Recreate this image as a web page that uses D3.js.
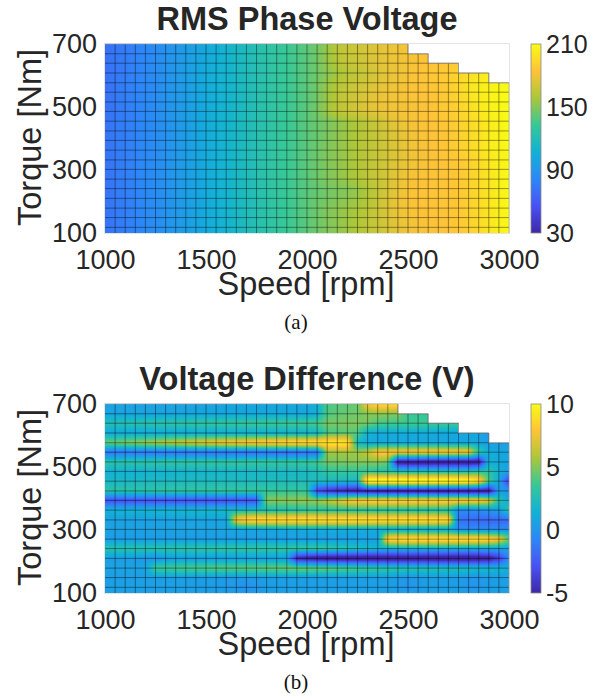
<!DOCTYPE html>
<html>
<head>
<meta charset="utf-8">
<script src="https://cdn.jsdelivr.net/npm/d3@7"></script>
<style>
  html, body { margin: 0; padding: 0; background: #fff; }
  svg { display: block; }
  text { font-family: "Liberation Sans", Arial, sans-serif; fill: #262626; }
  .caption { font-family: "Liberation Serif", "Times New Roman", serif; fill: #111; }
</style>
</head>
<body>
<div id="viz"></div>
<script>
/* speed / torque map, two panels */
const speeds = [1000,1050,1100,1150,1200,1250,1300,1350,1400,1450,1500,1550,1600,1650,1700,1750,1800,1850,1900,1950,2000,2050,2100,2150,2200,2250,2300,2350,2400,2450,2500,2550,2600,2650,2700,2750,2800,2850,2900,2950,3000];
const torques = [700,669,639,608,577,547,516,486,455,424,394,363,332,302,271,241,210,179,149,118,100];
const speedTicks = [1000,1500,2000,2500,3000];
const torqueTicks = [100,300,500,700];
const voltageTicks = [30,90,150,210];
const diffTicks = [-5,0,5,10];
const _ = null;

// RMS phase voltage, one row per torque, top row first
const voltage = [
[70,73,76,79,82,85,88,91,95,98,102,106,110,114,118,122,126,130,133,137,141,146,154,163,167,169,172,175,178,180,182,_,_,_,_,_,_,_,_,_,_],
[70,73,76,79,82,85,88,91,95,98,102,106,110,114,118,122,126,130,133,137,141,146,154,163,167,169,172,175,178,180,181,183,184,_,_,_,_,_,_,_,_],
[71,74,76,79,82,85,88,92,95,99,103,107,110,114,118,122,126,130,133,137,141,146,154,162,166,168,172,175,178,179,181,183,184,185,186,188,_,_,_,_,_],
[71,74,76,79,82,85,88,92,95,99,103,107,110,114,118,122,126,130,133,137,141,145,151,157,162,165,168,173,177,180,182,184,186,187,188,192,196,200,204,_,_],
[71,74,77,80,82,85,88,92,95,99,103,107,110,114,118,122,126,130,133,137,141,146,154,161,165,168,171,175,178,180,182,184,185,186,188,193,199,203,206,208,210],
[71,74,77,80,82,85,89,92,95,99,103,107,110,114,118,122,126,130,133,137,141,146,155,163,167,170,174,177,180,181,183,184,185,186,188,193,199,203,206,208,210],
[71,74,77,80,82,85,89,92,95,99,103,107,110,114,118,122,126,130,133,137,141,146,155,163,167,170,175,178,180,181,182,183,184,186,188,192,197,202,205,208,210],
[71,74,77,80,82,85,89,92,95,99,103,107,110,114,118,122,126,130,133,137,141,147,156,164,168,171,175,178,180,181,182,183,184,186,188,191,196,201,205,208,210],
[72,75,77,80,83,85,88,92,95,99,103,107,110,114,118,122,126,130,133,137,141,144,148,152,156,160,164,168,174,178,181,183,184,185,186,190,194,198,203,206,210],
[72,75,77,80,83,85,88,92,95,99,103,107,110,114,118,122,126,130,133,137,141,144,148,152,156,160,164,168,172,176,180,183,184,185,186,190,194,198,203,206,210],
[72,75,77,80,83,85,88,92,95,99,103,107,110,114,118,122,126,130,133,137,141,144,148,152,156,160,164,167,171,175,179,182,184,185,186,190,194,198,203,206,210],
[72,75,77,80,83,85,88,92,95,99,103,107,110,114,118,122,126,130,133,137,141,145,149,152,156,160,164,167,171,175,179,181,183,185,186,190,194,198,203,206,209],
[72,75,77,80,83,85,88,92,95,99,103,107,110,114,118,122,126,130,133,137,141,145,149,152,156,160,164,167,171,175,179,181,183,184,185,186,190,195,200,205,209],
[72,75,77,80,83,85,88,92,95,99,103,107,110,114,118,122,126,130,133,137,141,145,149,152,156,160,164,168,172,176,180,182,183,184,185,186,190,195,200,205,209],
[72,75,77,80,83,85,88,92,95,99,103,107,110,114,118,122,126,130,133,137,141,145,149,152,156,160,164,168,172,177,181,183,184,185,185,186,190,195,200,205,209],
[72,75,77,80,83,85,88,92,95,99,103,107,110,114,118,122,126,130,133,137,140,143,146,148,150,154,160,166,172,178,182,184,185,185,185,186,190,195,200,205,209],
[72,75,77,80,83,85,88,92,95,99,103,107,110,114,118,122,126,130,133,137,141,144,147,149,152,156,161,167,173,179,183,184,185,185,185,186,190,195,200,205,209],
[72,75,77,80,84,85,89,92,95,99,103,107,110,114,118,122,126,130,133,137,141,145,149,152,155,158,163,168,174,179,182,184,184,185,185,186,190,195,200,205,209],
[72,75,77,80,84,85,89,92,95,99,103,107,110,114,118,122,126,130,133,137,141,145,149,152,156,160,164,168,173,178,181,183,184,184,185,186,190,195,200,205,209],
[72,75,77,80,84,85,89,92,95,99,103,107,110,114,118,122,126,130,133,137,141,145,149,152,156,160,164,168,172,176,180,182,183,184,185,186,190,195,200,205,209],
[72,75,77,80,84,85,89,92,95,99,103,107,110,114,118,122,126,130,133,137,141,145,149,152,156,160,164,168,172,176,180,182,183,184,185,186,190,195,200,205,209]
];

// voltage difference, same grid
const difference = [
[.6,.6,.6,.6,.6,.6,.7,.7,.7,.7,.7,.7,.8,.8,.8,.8,.8,.9,.9,.9,.9,1.5,4,4.2,4.3,4.5,8,9,9.2,9.2,_,_,_,_,_,_,_,_,_,_,_],
[.8,.8,.8,.8,.8,.8,.8,.8,.8,.9,.9,.9,.9,.9,.9,1,1,1,1,1,1,1.2,4,4.3,4.5,4.6,5,5.2,5,5,3.6,3.5,3.5,_,_,_,_,_,_,_,_],
[2.5,2.6,2.7,2.8,2.9,3,3,3.1,3.1,3.2,3.3,3.3,3.4,3.4,3.5,3.5,3.6,3.6,3.7,3.7,3.8,4,4.8,4.8,4.9,4.9,4.8,4,3.8,3.7,3.7,3.7,3.7,3.7,3.7,3.7,_,_,_,_,_],
[1,1,1,1,1,1,1.1,1.1,1.1,1.2,1.2,1.2,1.3,1.3,1.3,1.4,1.4,1.4,1.5,1.5,1.5,1.8,3.8,4,4.2,4,1.5,1.2,1.2,1.2,1.1,1.1,1.1,1,1,1,1,.8,.2,_,_],
[4.5,4.7,5,5.3,5.6,5.9,6.2,6.5,6.8,7.1,7.4,7.7,8,8.2,8.4,8.6,8.8,9,9.2,9.3,9.4,9.5,9.6,9.7,9.6,2,1,.9,.9,.9,.9,.9,.9,.9,.8,.8,.8,.8,.5,.5,.4],
[-1.5,-1.5,-1.5,-1.5,-1.6,-1.6,-1.6,-1.7,-1.7,-1.7,-1.8,-1.8,-1.8,-1.8,-1.9,-1.9,-1.9,-2,-2,-2,-2,-2,5.5,5.5,5.6,5.5,6.3,8.2,8.4,8.4,8.4,8.4,8.4,8.4,8.4,8.3,8.2,3.5,1.2,1,.8],
[3,3,3.1,3.1,3.2,3.2,3.3,3.3,3.3,3.3,3.4,3.4,3.4,3.4,3.5,3.5,3.5,3.5,3.5,3.5,3.6,3.9,4.7,4.8,4.9,5,5,5,4.6,-6,-6.2,-6.2,-6.3,-6.3,-6.3,-6.3,-6.3,-6,1.5,1,.8],
[1.5,1.5,1.5,1.5,1.6,1.6,1.6,1.7,1.7,1.7,1.8,1.8,1.8,1.9,1.9,1.9,2,2,2,2,2.1,2.4,3.2,3.4,3.4,3.4,3.2,3,2.8,2.6,2.5,2.5,2.5,2.5,2.5,2.5,2.6,3,3,1.5,.5],
[2,2,2,2,2.1,2.1,2.1,2.1,2.2,2.2,2.2,2.2,2.2,2.2,2.2,2.3,2.3,2.3,2.3,2.3,2.3,2.3,2.2,2.2,2.1,2,11,11.2,11.4,11.4,11.4,11.4,11.4,11.4,11.4,11.2,11,9.5,4,1,-4],
[3,3,3.1,3.1,3.1,3.2,3.2,3.2,3.2,3.3,3.3,3.3,3.4,3.4,3.4,3.4,3.4,3.4,3.4,3.4,3.4,-3.5,-4.5,-5,-5.3,-5.6,-5.8,-6,-6.1,-6.2,-6.2,-6.2,-6.3,-6.3,-6.3,-6.3,-6.3,-6.2,-6,.5,0],
[-3,-3,-3,-3,-3,-3,-3,-3,-3,-3.1,-3.1,-3.1,-3.1,-3.1,-3.1,-3,5,5.2,5.2,5.3,5.4,5.5,6.2,7,8,8.5,8.6,8.8,8.8,8.8,8.8,8.8,8.8,8.8,8.8,8.8,8.6,8.5,7.5,3,1],
[1.5,1.5,1.6,1.6,1.7,1.7,1.8,1.8,1.9,1.9,2,2,2.1,2.2,2.3,2.4,2.5,2.6,2.7,2.8,3,3,3,3,3,2.9,2.9,2.8,2.8,2.7,2.7,2.6,2.6,2.6,2.5,-.5,-.5,-.3,0,.5,3],
[.6,.6,.6,.6,.6,.6,.6,.6,.7,.7,.7,.7,.7,8,9,9.4,9.4,9.5,9.5,9.6,9.6,9.6,9.6,9.7,9.7,9.7,9.7,9.7,9.7,9.7,9.7,9.7,9.7,9.6,9.4,-1.5,-1.8,-2,-2,-2,-2],
[.6,.6,.6,.6,.6,.6,.6,.7,.7,.7,.7,.7,.8,.8,.9,.9,1,1,1.1,1.1,1.2,1.2,1.2,1.2,1.2,1.2,1.2,1.1,1.1,1.1,1,1,1,1,1,-.5,-.5,-.5,-.5,-.4,-.3],
[.4,.4,.4,.4,.4,.4,.4,.4,.4,.4,.4,.4,.4,.4,.4,.4,.4,.4,.4,.4,.4,.4,.4,.4,.4,.5,.5,.5,9,9.4,9.6,9.6,9.6,9.6,9.6,9.6,9.6,9.6,9.2,8,4.5],
[2.8,2.8,2.8,2.9,2.9,2.9,3,3,3,3.1,3.1,3.1,3.2,3.2,3.2,3.3,3.3,3.3,3.3,3.4,3.4,3.4,3.2,3,2.8,2.4,2,1.8,1.6,1.5,1.5,1.5,1.4,1.4,1.3,1.2,1.1,1,1,.8,.6],
[.5,.5,.5,.4,.2,-.1,.3,.5,.5,.5,.5,.5,.5,.5,.5,.5,.5,.5,.5,-5,-5.6,-6,-6.2,-6.3,-6.3,-6.3,-6.3,-6.3,-6.3,-6.3,-6.3,-6.3,-6.3,-6.3,-6.3,-6.3,-6.3,-6.1,-5.8,-4,-.5],
[.7,.7,.7,.7,.7,3.6,3.7,3.8,3.9,4,4.1,4.2,4.3,4.3,4.4,4.4,4.5,4.6,4.6,4.7,4.7,4.6,4.5,4.3,4.1,3.8,3.6,3.4,3.2,3,2.9,2.8,2.7,2.6,2.5,2.4,2.3,2.1,1.9,1.7,1.5],
[.5,.5,.5,.5,.5,.5,.5,.5,.5,.4,.4,.4,.3,.3,.3,.4,.5,.5,.5,.5,.5,.5,.5,.5,.5,.5,.5,.5,.5,.4,.1,.3,.5,.5,.5,.4,.1,.1,.4,.5,.5],
[.5,.5,.5,.5,.5,.5,.5,.5,.5,.5,.4,.4,.3,.1,-.2,.1,.4,.5,.5,.5,.5,.5,.5,.5,.5,.5,.5,.5,.5,.3,0,.3,.5,.5,.5,.4,0,.1,.4,.5,.5],
[.5,.5,.5,.5,.5,.5,.5,.5,.5,.5,.5,.5,.4,.3,.2,.3,.5,.5,.5,.5,.5,.5,.5,.5,.5,.5,.5,.5,.5,.5,.3,.4,.5,.5,.5,.5,.3,.4,.5,.5,.5]
];

const parula = ['#3e26a8','#4852f4','#2d87f7','#11b1d6','#37c897','#abc739','#fec338','#f9fb15'];

const width = 606, height = 700;
const svg = d3.select('#viz').append('svg').attr('width', width).attr('height', height);

const defs = svg.append('defs');
const grad = defs.append('linearGradient').attr('id', 'cbar').attr('x1', 0).attr('x2', 0).attr('y1', 1).attr('y2', 0);
parula.forEach((c, i) => grad.append('stop').attr('offset', i / (parula.length - 1)).attr('stop-color', c));
// the reference is a slightly soft raster, so the surface gets a small blur
defs.append('filter').attr('id', 'soft').attr('x', '-2%').attr('y', '-2%').attr('width', '104%').attr('height', '104%')
  .append('feGaussianBlur').attr('stdDeviation', 0.7);

function drawPanel(cfg) {
  const top = cfg.top, bottom = top + 189, left = 105, right = 509;
  const x = d3.scaleLinear().domain([1000, 3000]).range([left, right]);
  const y = d3.scaleLinear().domain([100, 700]).range([bottom, top]);
  const unit = d3.scaleLinear().domain(cfg.domain).range([0, 1]);
  const color = d3.scaleLinear().domain(parula.map((c, i) => i / (parula.length - 1))).range(parula).clamp(true);
  const rows = cfg.rows;
  const negTorque = torques.map(d => -d);

  // shaded surface, interpolated between grid nodes
  const cv = document.createElement('canvas');
  cv.width = right - left; cv.height = bottom - top;
  const ctx = cv.getContext('2d');
  const img = ctx.createImageData(cv.width, cv.height);
  for (let py = 0; py < cv.height; py++) {
    const t = y.invert(top + py + 0.5);
    const k = Math.min(d3.bisectRight(negTorque, -t) - 1, torques.length - 2);
    const fy = (torques[k] - t) / (torques[k] - torques[k + 1]);
    for (let px = 0; px < cv.width; px++) {
      const s = x.invert(left + px + 0.5);
      const n = Math.min(d3.bisectRight(speeds, s) - 1, speeds.length - 2);
      const fx = (s - speeds[n]) / (speeds[n + 1] - speeds[n]);
      const a = rows[k][n], b = rows[k][n + 1], c = rows[k + 1][n], d = rows[k + 1][n + 1];
      if (a === null || b === null || c === null || d === null) continue;
      const v = (a * (1 - fx) + b * fx) * (1 - fy) + (c * (1 - fx) + d * fx) * fy;
      const rgb = d3.rgb(color(unit(v)));
      const i = (py * cv.width + px) * 4;
      img.data[i] = rgb.r; img.data[i + 1] = rgb.g; img.data[i + 2] = rgb.b; img.data[i + 3] = 255;
    }
  }
  ctx.putImageData(img, 0, 0);

  const g = svg.append('g');
  g.append('rect').attr('x', left - 0.5).attr('y', top - 0.5).attr('width', right - left + 1).attr('height', bottom - top + 1)
    .attr('fill', 'none').attr('stroke', '#e4e4e4').attr('stroke-width', 1);
  g.append('image').attr('x', left).attr('y', top).attr('width', cv.width).attr('height', cv.height)
    .attr('filter', 'url(#soft)')
    .attr('href', cv.toDataURL());

  // mesh lines stop at the edge of the defined region
  const lastValid = r => { let i = r.length - 1; while (r[i] === null) i--; return i; };
  const firstValid = n => rows.findIndex(r => r[n] !== null);
  const mesh = g.append('g').attr('stroke', '#000').attr('stroke-opacity', 0.5).attr('stroke-width', 0.8);
  mesh.selectAll('line.h').data(torques.slice(1, -1)).join('line').attr('class', 'h')
    .attr('x1', left)
    .attr('x2', (d, i) => x(speeds[lastValid(rows[i + 1])]))
    .attr('y1', d => y(d)).attr('y2', d => y(d));
  mesh.selectAll('line.v').data(speeds.slice(1, -1)).join('line').attr('class', 'v')
    .attr('x1', d => x(d)).attr('x2', d => x(d))
    .attr('y1', (d, i) => y(torques[firstValid(i + 1)]))
    .attr('y2', bottom);
  // stair edge and top, softer than the mesh
  const edge = d3.line().x(d => x(d[0])).y(d => y(d[1]));
  const stair = [];
  rows.slice(0, 5).forEach((r, k) => {
    const s = speeds[lastValid(r)];
    stair.push([s, torques[k]]);
    if (k < 4) stair.push([s, torques[k + 1]]);
  });
  g.append('path').attr('d', edge([[1000, 700]].concat(stair).concat([[3000, 100]])))
    .attr('fill', 'none').attr('stroke', '#9a9a9a').attr('stroke-opacity', 0.7).attr('stroke-width', 0.8);

  // axes
  const xAxis = g.append('g').attr('transform', `translate(0,${bottom})`)
    .call(d3.axisBottom(x).tickValues(speedTicks).tickSize(0).tickPadding(17).tickFormat(d => String(d)));
  const yAxis = g.append('g').attr('transform', `translate(${left},0)`)
    .call(d3.axisLeft(y).tickValues(torqueTicks).tickSize(0).tickPadding(8).tickFormat(d => String(d)));
  [xAxis, yAxis].forEach(a => {
    a.attr('font-family', null);
    a.select('.domain').remove();
    a.selectAll('text').attr('font-size', 27);
  });

  // colorbar
  const barX = 531, barW = 10;
  const barY = d3.scaleLinear().domain(cfg.domain).range([bottom, top]);
  g.append('rect').attr('x', barX).attr('y', top).attr('width', barW).attr('height', bottom - top)
    .attr('fill', 'url(#cbar)').attr('stroke', '#8c8c8c').attr('stroke-width', 0.8);
  const bar = g.append('g').attr('transform', `translate(${barX + barW},0)`)
    .call(d3.axisRight(barY).tickValues(cfg.ticks).tickSize(0).tickPadding(5).tickFormat(d => String(d)));
  bar.attr('font-family', null);
  bar.select('.domain').remove();
  bar.selectAll('text').attr('font-size', 25);

  // labels
  g.append('text').attr('x', 307).attr('y', top - 14).attr('text-anchor', 'middle')
    .attr('font-size', 32.5).attr('font-weight', 'bold').text(cfg.title);
  g.append('text').attr('x', 306).attr('y', bottom + 62).attr('text-anchor', 'middle')
    .attr('font-size', 32.5).text('Speed [rpm]');
  g.append('text').attr('transform', `translate(41,${(top + bottom) / 2 - 1}) rotate(-90)`).attr('text-anchor', 'middle')
    .attr('font-size', 32.5).text('Torque [Nm]');
  g.append('text').attr('class', 'caption').attr('x', 296).attr('y', bottom + 96).attr('text-anchor', 'middle')
    .attr('font-size', 21).text(cfg.caption);
}

drawPanel({ top: 44, rows: voltage, domain: [30, 210], ticks: voltageTicks, title: 'RMS Phase Voltage', caption: '(a)' });
drawPanel({ top: 404, rows: difference, domain: [-5, 10], ticks: diffTicks, title: 'Voltage Difference (V)', caption: '(b)' });
</script>
</body>
</html>
